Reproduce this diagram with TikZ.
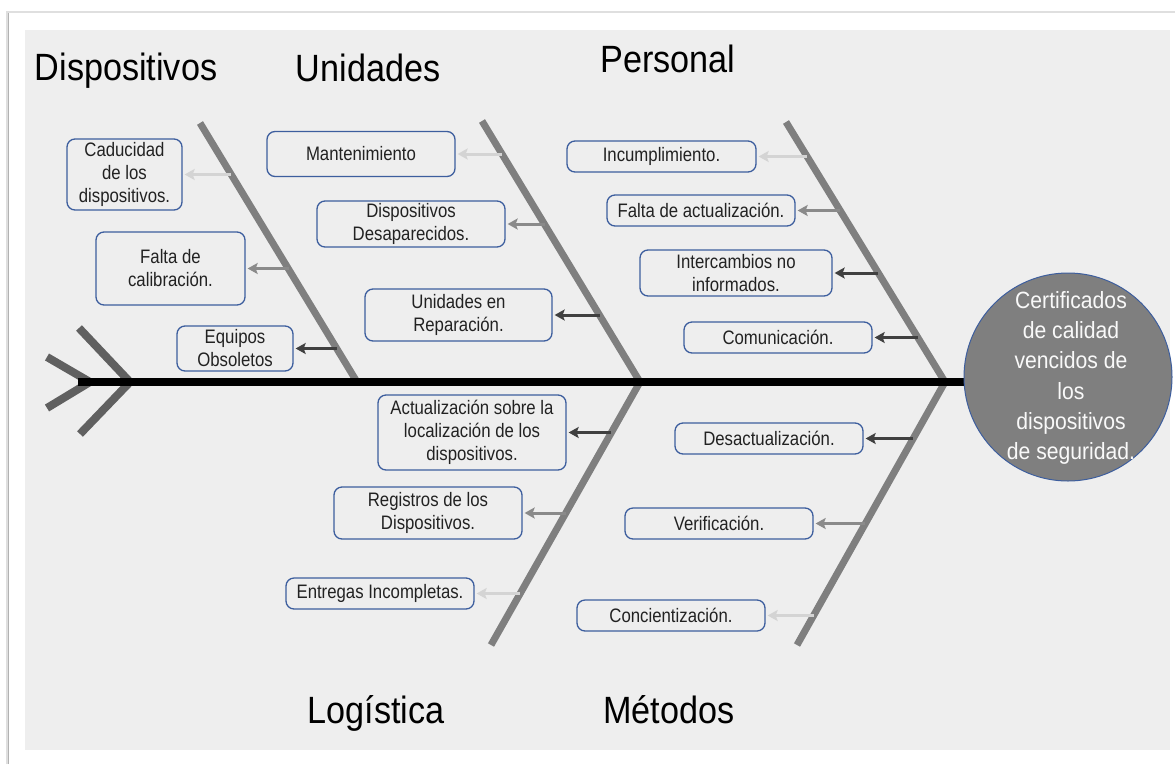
\documentclass[tikz,border=0pt]{standalone}
\usepackage{fontspec}
\setmainfont{Liberation Sans}[FakeStretch=0.86]
\newfontfamily\titlefont{Liberation Sans}[FakeStretch=0.9]
\newfontfamily\headfont{Liberation Sans}[FakeStretch=0.9]
\usetikzlibrary{arrows.meta}
\definecolor{panel}{HTML}{EEEEEE}
\definecolor{boxblue}{HTML}{3D5E9E}
\definecolor{bonegray}{HTML}{7F7F7F}
\definecolor{tailgray}{HTML}{606060}
\definecolor{arrlight}{HTML}{D4D4D4}
\definecolor{arrmid}{HTML}{8A8A8A}
\definecolor{arrdark}{HTML}{404040}
\definecolor{txt}{HTML}{222222}
\tikzset{
  causebox/.style={draw=boxblue, line width=1.3pt, rounded corners=8pt, inner sep=0pt,
    align=center, text=txt, font=\fontsize{19.5}{23}\selectfont},
  cat/.style={anchor=base, inner sep=0pt, font=\titlefont\fontsize{38}{40}\selectfont},
  bone/.style={draw=bonegray, line width=7pt},
  tailbone/.style={draw=tailgray, line width=8pt},
  cause/.style={line width=3pt, -{Stealth[length=10pt,width=11pt,inset=2pt]}, shorten >=2pt},
  lightarr/.style={cause, draw=arrlight},
  midarr/.style={cause, draw=arrmid},
  darkarr/.style={cause, draw=arrdark},
}
\begin{document}
\begin{tikzpicture}[x=1pt,y=-1pt]
\useasboundingbox (0,0) rectangle (1175,764);
% frame and panel
\fill[white] (0,0) rectangle (1175,764);
\draw[gray!25, line width=2pt] (7,764) -- (7,12) -- (1175,12);
\draw[gray!60, line width=1pt] (8,764) -- (8,13);
\fill[panel] (25,30) rectangle (1170,750);

% category titles
\node[cat] (tDisp) at (126,80) {Dispositivos};
\node[cat] (tUni) at (368,81) {Unidades};
\node[cat] (tPer) at (668,72) {Personal};
\node[cat] (tLog) at (376,723) {Logística};
\node[cat] (tMet) at (669,723) {Métodos};

% bone end points
\coordinate (u1t) at (200,123); \coordinate (u1b) at (357,382);
\coordinate (u2t) at (482,121); \coordinate (u2b) at (640,382);
\coordinate (u3t) at (786,122); \coordinate (u3b) at (945,382);
\coordinate (l1t) at (640,382); \coordinate (l1b) at (491,645);
\coordinate (l2t) at (945,382); \coordinate (l2b) at (797,645);

% tail
\coordinate (ta1) at (47,357); \coordinate (tap1) at (90,382); \coordinate (tb1) at (47,408);
\coordinate (ta2) at (79,328); \coordinate (tap2) at (130,382); \coordinate (tb2) at (80,434);
\draw[tailbone] (ta1) -- (tap1) -- (tb1);
\draw[tailbone] (ta2) -- (tap2) -- (tb2);

% bones
\draw[bone] (u1t) -- (u1b);
\draw[bone] (u2t) -- (u2b);
\draw[bone] (u3t) -- (u3b);
\draw[bone] (l1t) -- (l1b);
\draw[bone] (l2t) -- (l2b);

% spine
\coordinate (spine0) at (78,382);
\coordinate (spine1) at (1000,382);
\draw[line width=8pt, black] (spine0) -- (spine1);

% head
\node[circle, fill=bonegray, draw=boxblue, line width=1pt, minimum size=208pt, inner sep=0pt] (head) at (1068,377) {};
\node[align=center, inner sep=0pt, text=white!95!gray, font=\headfont\fontsize{23.5}{30.2}\selectfont] (headtext) at (1071,378)
  {Certificados\\de calidad\\vencidos de\\los\\dispositivos\\de seguridad.};

% Dispositivos
\node[causebox, minimum width=115pt, minimum height=71pt] (d1) at (124.5,174.5) {Caducidad\\de los\\dispositivos.};
\node[causebox, minimum width=149pt, minimum height=73pt] (d2) at (170.5,268.5) {Falta de\\calibración.};
\node[causebox, minimum width=116pt, minimum height=45pt] (d3) at (235,348.5) {Equipos\\Obsoletos};
\coordinate (sd1) at (231,174.5);
\coordinate (sd2) at (288.5,268.5);
\coordinate (sd3) at (337,348.5);
\draw[lightarr] (sd1) -- (d1.east);
\draw[midarr] (sd2) -- (d2.east);
\draw[darkarr] (sd3) -- (d3.east);

% Unidades
\node[causebox, minimum width=188pt, minimum height=45pt] (n1) at (361,154) {Mantenimiento};
\node[causebox, minimum width=188pt, minimum height=46pt] (n2) at (411,224) {Dispositivos\\Desaparecidos.};
\node[causebox, minimum width=187pt, minimum height=52pt] (n3) at (458.5,315) {Unidades en\\Reparación.};
\coordinate (sn1) at (502,154);
\coordinate (sn2) at (544.5,224);
\coordinate (sn3) at (600,315);
\draw[lightarr] (sn1) -- (n1.east);
\draw[midarr] (sn2) -- (n2.east);
\draw[darkarr] (sn3) -- (n3.east);

% Personal
\node[causebox, minimum width=189pt, minimum height=31pt] (p1) at (661.5,156.5) {Incumplimiento.};
\node[causebox, minimum width=188pt, minimum height=31pt] (p2) at (701,210.5) {Falta de actualización.};
\node[causebox, minimum width=192pt, minimum height=46pt] (p3) at (736,273) {Intercambios no\\informados.};
\node[causebox, minimum width=188pt, minimum height=31pt] (p4) at (778,337.5) {Comunicación.};
\coordinate (sp1) at (807,156.5);
\coordinate (sp2) at (840,210.5);
\coordinate (sp3) at (878,273);
\coordinate (sp4) at (918,337.5);
\draw[lightarr] (sp1) -- (p1.east);
\draw[midarr] (sp2) -- (p2.east);
\draw[darkarr] (sp3) -- (p3.east);
\draw[darkarr] (sp4) -- (p4.east);

% Logistica
\node[causebox, minimum width=188pt, minimum height=75pt] (g1) at (472,432.5) {Actualización sobre la\\localización de los\\dispositivos.};
\node[causebox, minimum width=188pt, minimum height=52pt] (g2) at (428,513) {Registros de los\\Dispositivos.};
\node[causebox, minimum width=188pt, minimum height=31pt] (g3) at (380,593.5) {Entregas Incompletas.};
\coordinate (sg1) at (611,432.5);
\coordinate (sg2) at (565.5,513);
\coordinate (sg3) at (520,593.5);
\draw[darkarr] (sg1) -- (g1.east);
\draw[midarr] (sg2) -- (g2.east);
\draw[lightarr] (sg3) -- (g3.east);

% Metodos
\node[causebox, minimum width=188pt, minimum height=31pt] (m1) at (769,438.5) {Desactualización.};
\node[causebox, minimum width=188pt, minimum height=31pt] (m2) at (719,523.5) {Verificación.};
\node[causebox, minimum width=188pt, minimum height=31pt] (m3) at (671,615.5) {Concientización.};
\coordinate (sm1) at (913,438.5);
\coordinate (sm2) at (865,523.5);
\coordinate (sm3) at (813.5,615.5);
\draw[darkarr] (sm1) -- (m1.east);
\draw[midarr] (sm2) -- (m2.east);
\draw[lightarr] (sm3) -- (m3.east);
\end{tikzpicture}
\end{document}
